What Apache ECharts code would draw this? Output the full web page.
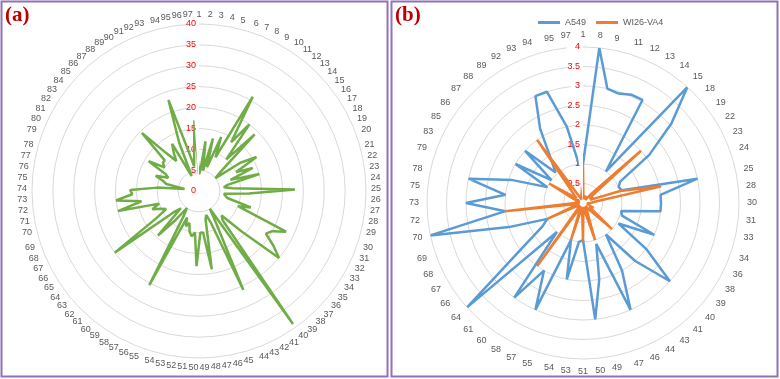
<!DOCTYPE html>
<html><head><meta charset="utf-8">
<script src="https://cdn.jsdelivr.net/npm/echarts@6/dist/echarts.min.js"></script>
<style>html,body{margin:0;padding:0;background:#fff}#c{width:780px;height:379px}</style>
</head><body><div id="c"></div>
<script>
const catsA = ['1','2','3','4','5','6','7','8','9','10','11','12','13','14','15','16','17','18','19','20','21','22','23','24','25','26','27','28','29','30','31','32','33','34','35','36','37','38','39','40','41','42','43','44','45','46','47','48','49','50','51','52','53','54','55','56','57','58','59','60','61','62','63','64','65','66','67','68','69','70','71','72','73','74','75','76','77','78','79','80','81','82','83','84','85','86','87','88','89','90','91','92','93','94','95','96','97'];
const valsA = [4,5,12,5,13,6,14,9,26,14,20,10,19,7,5,12,16,10,14,8,15,7,6,8,23,12,6,6,7,13,10,23,20,19,22,25,14,8,9,39,5,9,26,8,6,7,19,10,10,18,10,11,10,8,9,7,25.5,7,5,9,14.5,6,8,25,12,9,10,12,10,20,14,20,16,16.5,10,3.5,8,9,11,8,9,14,10,11,11,19.5,12,9,11,13,4,12.5,23,10,6,9,17];
const ticksA = {min:0, max:40, step:5};

const catsB = ['1','8','9','11','12','13','14','15','18','19','22','23','24','25','28','30','31','33','34','36','38','39','40','41','43','44','46','47','49','50','51','53','54','55','57','58','60','61','64','66','67','68','69','70','72','73','75','78','79','83','85','86','87','88','89','92','93','94','95','97'];
const a549 = [1.0,4.0,3.0,2.95,3.04,3.05,1.0,4.0,3.05,2.1,1.1,1.0,1.05,3.0,2.0,2.0,2.0,1.0,1.05,2.0,1.05,2.0,3.0,2.0,1.0,2.0,3.0,1.1,2.0,3.0,0.95,1.0,2.0,1.0,3.0,2.0,3.0,1.0,4.0,1.85,1.2,1.0,2.0,4.0,2.0,3.0,2.0,3.0,1.9,1.0,2.0,1.0,2.0,1.05,1.4,2.2,3.0,3.0,2.0,1.0];
const wi26 = [1.0,0.1,0.1,0.2,0.1,0.2,0.1,0.3,2.0,0.2,0.3,0.2,1.0,2.05,0.3,0.2,0.1,0.2,0.1,0.3,0.2,0.3,1.0,0.2,0.1,0.2,0.3,1.0,0.2,0.1,1.0,0.2,0.1,1.0,0.2,0.1,2.0,0.2,0.1,0.2,0.1,1.0,0.2,0.1,2.0,0.2,0.1,0.2,0.1,0.3,1.0,0.2,0.3,0.5,2.0,0.2,0.1,0.1,0.2,0.3];
const ticksB = {min:0, max:4, step:0.5};

function closed(vals){ const d = vals.map((v,i)=>[v,i]); d.push([vals[0],0]); return d; }
const font = 'Liberation Sans, Arial, sans-serif';
function angAx(idx, cats, margin){
  return {polarIndex:idx, type:'category', data:cats, boundaryGap:false, startAngle:90, clockwise:true,
    axisLine:{show:false}, axisTick:{show:false}, splitLine:{show:false},
    axisLabel:{interval:0, fontSize:9, color:'#595959', margin:margin, fontFamily:font}};
}
function radAx(idx, t){
  return {polarIndex:idx, type:'value', min:t.min, max:t.max, interval:t.step,
    axisLine:{show:false}, axisTick:{show:false},
    splitLine:{show:true, lineStyle:{color:'#d9d9d9', width:1}},
    axisLabel:{color:'#ff0000', fontSize:9, fontFamily:font, margin:3}};
}
const chart = echarts.init(document.getElementById('c'), null, {renderer:'canvas'});
chart.setOption({
  animation:false,
  backgroundColor:'#ffffff',
  polar:[{center:[199,191], radius:167},{center:[583,203], radius:156}],
  angleAxis:[angAx(0,catsA,5), angAx(1,catsB,8)],
  radiusAxis:[radAx(0,ticksA), radAx(1,ticksB)],
  legend:{data:['A549','WI26-VA4'], top:13, left:533, icon:'rect', itemWidth:22, itemHeight:3, itemGap:10,
    textStyle:{fontSize:9, color:'#595959', fontFamily:font}},
  series:[
    {name:'a', type:'line', coordinateSystem:'polar', polarIndex:0, data:closed(valsA), symbol:'none',
     lineStyle:{color:'#70ad47', width:2.5}, itemStyle:{color:'#70ad47'}},
    {name:'A549', type:'line', coordinateSystem:'polar', polarIndex:1, data:closed(a549), symbol:'none',
     lineStyle:{color:'#5b9bd5', width:2.5}, itemStyle:{color:'#5b9bd5'}},
    {name:'WI26-VA4', type:'line', coordinateSystem:'polar', polarIndex:1, data:closed(wi26), symbol:'none',
     lineStyle:{color:'#ed7d31', width:2.5}, itemStyle:{color:'#ed7d31'}}
  ],
  graphic:[
    {type:'rect', shape:{x:1.5,y:1.5,width:386,height:375}, style:{fill:'none', stroke:'#8f72b8', lineWidth:2}},
    {type:'rect', shape:{x:391.5,y:1.5,width:386,height:375}, style:{fill:'none', stroke:'#8f72b8', lineWidth:2}},
    {type:'text', left:5, top:5, style:{text:'(a)', fill:'#c00000', font:'bold 21px "Liberation Serif", "Times New Roman", serif'}},
    {type:'text', left:395, top:5, style:{text:'(b)', fill:'#c00000', font:'bold 21px "Liberation Serif", "Times New Roman", serif'}}
  ]
});
</script></body></html>
